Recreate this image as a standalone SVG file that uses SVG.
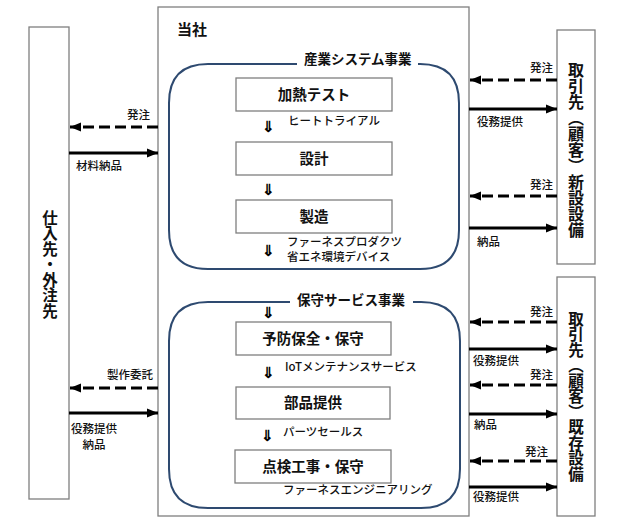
<svg xmlns="http://www.w3.org/2000/svg" width="620" height="523" viewBox="0 0 620 523">
<defs>
<marker id="ah" markerUnits="userSpaceOnUse" markerWidth="12" markerHeight="10" refX="11" refY="5" orient="auto">
<path d="M0,0.5 L11,5 L0,9.5 Z" fill="#000"/>
</marker>
<style>
text{font-family:"Noto Sans CJK JP","Noto Sans",sans-serif;fill:#111}
.frame{fill:#fff;stroke:#7f7f7f;stroke-width:1.3}
.box{fill:#fff;stroke:#7f7f7f;stroke-width:1.3}
.grp{fill:none;stroke:#2e4a70;stroke-width:2}
.lbl{font-size:14.5px;font-weight:700;text-anchor:middle}
.head{font-size:13.5px;font-weight:700}
.sub{font-size:11.5px;font-weight:500}
.arr{font-size:11.5px;font-weight:500}
text.dn{font-family:"Noto Sans CJK JP","Noto Sans CJK SC",sans-serif;font-size:15px;text-anchor:middle;fill:#000;font-weight:700}
.vt{font-size:16px;font-weight:700;writing-mode:vertical-rl}
.solid{stroke:#000;stroke-width:3.2;fill:none}
.dash{stroke:#000;stroke-width:3.2;fill:none;stroke-dasharray:11 5}
</style>
</defs>
<rect width="620" height="523" fill="#fff"/>

<g id="supplier">
<rect class="frame" x="29" y="27" width="40" height="472"/>
<text class="vt" x="50" y="210" style="font-size:15.5px">仕入先・外注先</text>
</g>

<g id="company">
<rect class="frame" x="158" y="7" width="311" height="509"/>
<text x="177" y="35" style="font-size:15px;font-weight:700">当社</text>
</g>

<g id="customer-new">
<rect class="frame" x="557" y="30" width="38" height="234"/>
<text class="vt" x="576" y="62">取引先（顧客）新設設備</text>
</g>

<g id="customer-existing">
<rect class="frame" x="557" y="277" width="38" height="239"/>
<text class="vt" x="576" y="311" style="font-size:15.5px">取引先（顧客）既存設備</text>
</g>

<g id="industrial">
<path class="grp" d="M297,64 H208 Q169,64 169,103 V230 Q169,269 208,269 H420 Q459,269 459,230 V103 Q459,64 420,64 H418"/>
<text class="head" x="304" y="64">産業システム事業</text>
</g>
<g id="heat-test">
<rect class="box" x="236" y="78" width="156" height="33"/>
<text class="lbl" x="314" y="100">加熱テスト</text>
</g>
<text class="sub" x="288" y="125">ヒートトライアル</text>
<g id="design">
<rect class="box" x="236" y="142" width="156" height="33"/>
<text class="lbl" x="314" y="164">設計</text>
</g>
<g id="manufacture">
<rect class="box" x="236" y="200" width="156" height="33"/>
<text class="lbl" x="314" y="222">製造</text>
</g>
<text class="sub" x="287" y="246">ファーネスプロダクツ</text>
<text class="sub" x="287" y="261">省エネ環境デバイス</text>

<g id="maintenance">
<path class="grp" d="M290,302 H208 Q169,302 169,341 V469 Q169,508 208,508 H421 Q460,508 460,469 V341 Q460,302 421,302 H413"/>
<text class="head" x="297" y="305">保守サービス事業</text>
</g>
<g id="preventive">
<rect class="box" x="236" y="322" width="155" height="33"/>
<text class="lbl" x="313" y="344">予防保全・保守</text>
</g>
<text class="sub" x="285" y="371">IoTメンテナンスサービス</text>
<g id="parts">
<rect class="box" x="236" y="387" width="154" height="32"/>
<text class="lbl" x="313" y="408">部品提供</text>
</g>
<text class="sub" x="283" y="436">パーツセールス</text>
<g id="inspection">
<rect class="box" x="235" y="450" width="156" height="33"/>
<text class="lbl" x="313" y="472">点検工事・保守</text>
</g>
<text class="sub" x="283" y="494">ファーネスエンジニアリング</text>

<g id="flow-marks" opacity="0.99">
<text class="dn" x="268" y="132">⇓</text>
<text class="dn" x="268" y="195">⇓</text>
<text class="dn" x="268" y="256">⇓</text>
<text class="dn" x="268" y="318">⇓</text>
<text class="dn" x="268" y="378">⇓</text>
<text class="dn" x="267" y="441">⇓</text>
</g>

<g id="connectors">
<line class="dash" x1="158" y1="127" x2="70" y2="127" marker-end="url(#ah)"/>
<line class="solid" x1="69" y1="153" x2="158" y2="153" marker-end="url(#ah)"/>
<line class="dash" x1="158" y1="388" x2="70" y2="388" marker-end="url(#ah)"/>
<line class="solid" x1="69" y1="413" x2="158" y2="413" marker-end="url(#ah)"/>

<line class="dash" x1="557" y1="80" x2="470" y2="80" marker-end="url(#ah)"/>
<line class="solid" x1="469" y1="109" x2="557" y2="109" marker-end="url(#ah)"/>
<line class="dash" x1="557" y1="196" x2="470" y2="196" marker-end="url(#ah)"/>
<line class="solid" x1="469" y1="228" x2="557" y2="228" marker-end="url(#ah)"/>

<line class="dash" x1="557" y1="322" x2="470" y2="322" marker-end="url(#ah)"/>
<line class="solid" x1="469" y1="349" x2="557" y2="349" marker-end="url(#ah)"/>
<line class="dash" x1="557" y1="385" x2="470" y2="385" marker-end="url(#ah)"/>
<line class="solid" x1="469" y1="414" x2="557" y2="414" marker-end="url(#ah)"/>
<line class="dash" x1="557" y1="461" x2="470" y2="461" marker-end="url(#ah)"/>
<line class="solid" x1="469" y1="487" x2="557" y2="487" marker-end="url(#ah)"/>

<text class="arr" x="150" y="119" text-anchor="end">発注</text>
<text class="arr" x="76" y="170">材料納品</text>
<text class="arr" x="153" y="379" text-anchor="end">製作委託</text>
<text class="arr" x="94" y="433" text-anchor="middle">役務提供</text>
<text class="arr" x="94" y="449" text-anchor="middle">納品</text>

<text class="arr" x="553" y="72" text-anchor="end">発注</text>
<text class="arr" x="477" y="126">役務提供</text>
<text class="arr" x="553" y="189" text-anchor="end">発注</text>
<text class="arr" x="477" y="246">納品</text>
<text class="arr" x="553" y="316" text-anchor="end">発注</text>
<text class="arr" x="473" y="365">役務提供</text>
<text class="arr" x="553" y="379" text-anchor="end">発注</text>
<text class="arr" x="474" y="429">納品</text>
<text class="arr" x="548" y="456" text-anchor="end">発注</text>
<text class="arr" x="473" y="501">役務提供</text>
</g>
</svg>
